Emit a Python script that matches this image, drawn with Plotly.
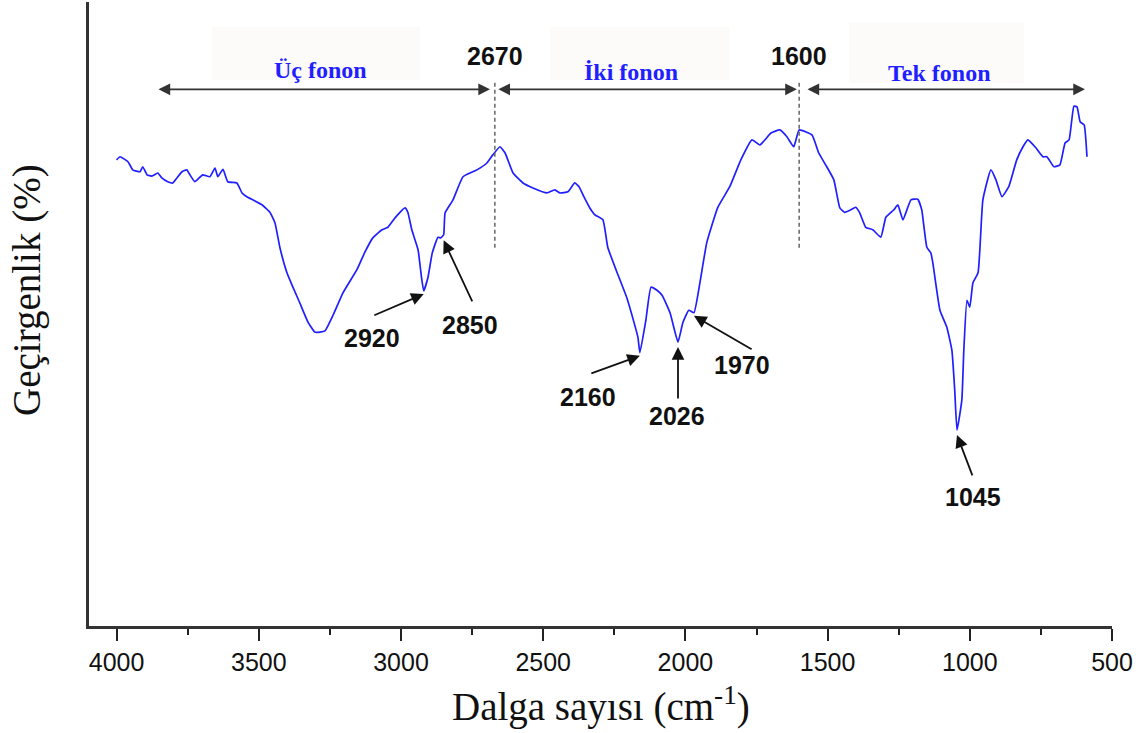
import plotly.graph_objects as go

# FTIR transmittance spectrum (arbitrary transmittance scale, 0-100)
wavenumber = [
    4000, 3988, 3960, 3943, 3918, 3908, 3893, 3876, 3855, 3841, 3820, 3802, 3788, 3770,
    3753, 3742, 3725, 3697, 3672, 3654, 3644, 3626, 3609, 3577, 3559, 3542, 3521, 3489,
    3461, 3443, 3426, 3401, 3380, 3356, 3327, 3303, 3285, 3267, 3239, 3204, 3155, 3127,
    3099, 3067, 3046, 3021, 2986, 2976, 2962, 2940, 2928, 2920, 2905, 2890, 2870, 2860,
    2850, 2845, 2817, 2782, 2733, 2698, 2677, 2652, 2634, 2606, 2571, 2536, 2487, 2459,
    2441, 2413, 2389, 2374, 2357, 2336, 2318, 2290, 2273, 2244, 2206, 2181, 2167, 2160,
    2139, 2121, 2100, 2082, 2054, 2026, 2009, 1988, 1970, 1949, 1925, 1886, 1844, 1805,
    1766, 1738, 1699, 1668, 1643, 1619, 1600, 1555, 1531, 1503, 1478, 1457, 1440, 1418,
    1401, 1387, 1366, 1341, 1313, 1295, 1267, 1253, 1235, 1207, 1183, 1169, 1151, 1137,
    1130, 1105, 1081, 1063, 1053, 1045, 1028, 1021, 1010, 1000, 989, 971, 954, 926,
    908, 887, 863, 835, 813, 796, 767, 743, 729, 704, 683, 665, 651, 634, 623, 612, 598, 588,
]
transmittance = [
    74.7, 75.2, 74.4, 73.1, 72.8, 73.6, 72.3, 72.1, 72.6, 71.8, 71.2, 71.0, 71.8, 72.8,
    73.1, 72.3, 71.2, 72.3, 72.0, 73.4, 72.0, 73.2, 71.2, 71.0, 69.4, 68.8, 68.3, 67.5,
    66.3, 64.6, 60.7, 56.6, 54.3, 51.8, 48.7, 47.1, 47.1, 47.3, 49.8, 53.4, 57.1, 59.9,
    62.2, 63.5, 63.9, 65.4, 67.0, 66.3, 63.5, 60.3, 55.9, 53.7, 55.9, 59.8, 62.3, 62.2,
    62.7, 66.2, 68.3, 72.0, 73.1, 74.2, 75.5, 76.8, 75.8, 72.6, 71.0, 70.2, 69.4, 69.9,
    69.4, 69.6, 71.0, 70.4, 68.8, 67.0, 65.9, 65.1, 60.7, 57.1, 52.6, 48.7, 46.3, 43.8,
    49.0, 54.3, 53.8, 53.0, 50.2, 45.5, 48.6, 50.6, 50.2, 55.0, 61.4, 67.1, 70.4, 74.7,
    77.9, 77.1, 79.0, 79.5, 78.4, 76.8, 79.5, 78.7, 75.8, 73.6, 71.5, 67.0, 66.3, 66.7,
    67.1, 66.2, 63.9, 63.5, 62.3, 65.5, 66.7, 67.5, 65.1, 68.3, 68.4, 66.7, 60.7, 59.8,
    58.2, 50.6, 47.9, 44.2, 37.8, 31.4, 36.2, 44.2, 52.2, 51.1, 55.0, 56.6, 68.3, 73.1,
    71.5, 68.8, 70.4, 74.7, 76.8, 77.9, 76.6, 75.2, 75.2, 73.6, 73.9, 77.4, 77.9, 83.3, 83.2, 80.8, 80.3, 75.2,
]

# Phonon region boundaries and names
boundaries = [2670, 1600]
regions = ["Üç fonon", "İki fonon", "Tek fonon"]

# Labelled absorption bands
peaks = [2920, 2850, 2160, 2026, 1970, 1045]

x_ticks = [4000, 3500, 3000, 2500, 2000, 1500, 1000, 500]

BLUE = "#1f1fff"
SERIF = "Liberation Serif, Times New Roman, serif"
SANS = "Liberation Sans, Arial, sans-serif"

fig = go.Figure()
fig.add_trace(go.Scatter(
    x=wavenumber, y=transmittance, mode="lines",
    line=dict(color=BLUE, width=1.7, shape="spline", smoothing=0.4),
    hoverinfo="skip", showlegend=False,
))

annotations = []
shapes = []

# Faint label backgrounds behind the region names
boxes = [(3665, 2934, 87.5, 96.0), (2476, 1844, 87.5, 96.0), (1425, 810, 87.0, 96.8)]
for x0, x1, y0, y1 in boxes:
    shapes.append(dict(type="rect", xref="x", yref="y", x0=x0, x1=x1, y0=y0, y1=y1,
                       fillcolor="#fcfbfa", line=dict(width=0), layer="below"))

# Dashed separators at region boundaries
for b in boundaries:
    shapes.append(dict(type="line", xref="x", yref="y", x0=b, x1=b, y0=60.6, y1=87.2,
                       line=dict(color="#666666", width=1.5, dash="4px,3px")))
    annotations.append(dict(x=b, y=91.3, xref="x", yref="y", text=f"<b>{b}</b>",
                            showarrow=False, font=dict(family=SANS, size=25, color="#111111")))

# Double-headed span arrows for each region
spans = [(3858, 2687), (2663, 1608), (1576, 595)]
for (x_start, x_end) in spans:
    annotations.append(dict(
        x=x_end, y=86.0, ax=x_start, ay=86.0, xref="x", yref="y", axref="x", ayref="y",
        text="", showarrow=True, arrowside="end+start", arrowhead=2, startarrowhead=2,
        arrowsize=1.3, startarrowsize=1.3, arrowwidth=1.8, arrowcolor="#333333",
        standoff=0, startstandoff=0,
    ))

# Region names
name_pos = [(3282, 89.1), (2192, 88.8), (1105, 88.6)]
for name, (xp, yp) in zip(regions, name_pos):
    annotations.append(dict(x=xp, y=yp, xref="x", yref="y", text=f"<b>{name}</b>",
                            showarrow=False, font=dict(family=SERIF, size=24, color=BLUE)))

# Peak markers: arrow head at the band, tail and label below
peak_layout = {
    2920: dict(head=53.2, tail=(3099, 49.7), label=(3102, 46.2)),
    2850: dict(head=61.8, tail=(2747, 51.8), label=(2758, 48.2)),
    2160: dict(head=43.3, tail=(2336, 40.4), label=(2343, 36.7)),
    2026: dict(head=44.7, tail=(2026, 36.2), label=(2030, 33.7)),
    1970: dict(head=49.7, tail=(1762, 44.2), label=(1801, 41.8)),
    1045: dict(head=30.6, tail=(989, 23.9), label=(989, 20.7)),
}
for p in peaks:
    cfg = peak_layout[p]
    annotations.append(dict(
        x=p, y=cfg["head"], ax=cfg["tail"][0], ay=cfg["tail"][1],
        xref="x", yref="y", axref="x", ayref="y", text="", showarrow=True,
        arrowhead=2, arrowsize=1.4, arrowwidth=1.8, arrowcolor="#111111",
        standoff=0, startstandoff=0,
    ))
    annotations.append(dict(x=cfg["label"][0], y=cfg["label"][1], xref="x", yref="y",
                            text=f"<b>{p}</b>", showarrow=False,
                            font=dict(family=SANS, size=25, color="#111111")))

# Axis titles
annotations.append(dict(x=0.5, y=-0.1266, xref="paper", yref="paper",
                        text="Dalga sayısı (cm<sup>-1</sup>)", showarrow=False,
                        xanchor="center", yanchor="middle",
                        font=dict(family=SERIF, size=39, color="#111111")))
annotations.append(dict(x=-0.0606, y=0.5385, xref="paper", yref="paper",
                        text="Geçirgenlik (%)", showarrow=False, textangle=-90,
                        xanchor="center", yanchor="middle",
                        font=dict(family=SERIF, size=39, color="#111111")))

fig.update_layout(
    width=1142, height=733,
    margin=dict(l=89, r=30, t=2, b=107),
    paper_bgcolor="white", plot_bgcolor="white",
    showlegend=False,
    annotations=annotations,
    shapes=shapes,
    xaxis=dict(
        range=[4097, 500], tickvals=x_ticks, ticktext=[str(t) for t in x_ticks],
        ticks="outside", ticklen=12, tickwidth=2, tickcolor="#222222",
        showline=True, linecolor="#333333", linewidth=2.5,
        showgrid=False, zeroline=False,
        tickfont=dict(family=SANS, size=25, color="#111111"),
        minor=dict(dtick=250, tick0=0, ticks="outside", ticklen=6, tickwidth=2,
                   tickcolor="#222222", showgrid=False),
    ),
    yaxis=dict(
        range=[0, 100], showticklabels=False, ticks="",
        showline=True, linecolor="#333333", linewidth=2.5,
        showgrid=False, zeroline=False,
    ),
)

fig.write_html("out.html")
